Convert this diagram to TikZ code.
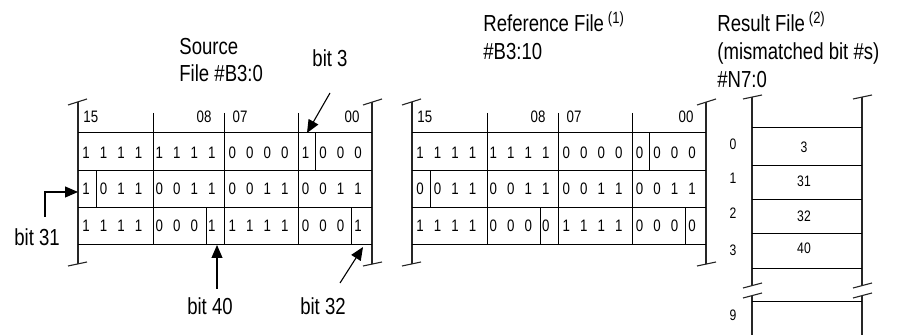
\documentclass[tikz,border=0pt]{standalone}
\usepackage{fontspec}
\setmainfont{Liberation Sans}
\newfontfamily\condfont{Liberation Sans}[FakeStretch=0.8]
\usetikzlibrary{arrows.meta}

% one row of 16 bits, grouped by four
\newcommand{\bitrow}[3]{%
  \foreach \d [count=\i from 0] in {#3}
    \node[bit] (#1-\i) at ({86+73.2*int(\i/4)+17.5*mod(\i,4)}, #2) {\d};}

% a 16-bit word file with three words shown
\newcommand{\wordtable}[4]{%
  \draw[wall] (78,102) -- (78,264);
  \draw[wall] (372,102) -- (372,264);
  \draw[brk] (68,105) -- (87,99);
  \draw[brk] (363,105) -- (382,99);
  \draw[brk] (68,266) -- (87,262);
  \draw[brk] (363,266) -- (382,262);
  \foreach \y in {133,171,208,245}
    \draw[rule] (78,\y) -- (372,\y);
  \foreach \x in {153,224,298}
    \draw[rule] (\x,113) -- (\x,245);
  \draw[rule] (315,133) -- (315,171);
  \draw[rule] (96,171) -- (96,208);
  \draw[rule] (206,208) -- (206,245);
  \draw[rule] (351,208) -- (351,245);
  \node[bit, anchor=west] (#1-h15) at (83,117) {15};
  \node[bit] (#1-h08) at (204,117) {08};
  \node[bit] (#1-h07) at (240,117) {07};
  \node[bit] (#1-h00) at (352,117) {00};
  \bitrow{#1-a}{153}{#2}
  \bitrow{#1-b}{189}{#3}
  \bitrow{#1-c}{226}{#4}}

\begin{document}
\begin{tikzpicture}[
    x=0.5pt, y=-0.5pt,
    >={Triangle[length=6.5pt, width=5.5pt]},
    wall/.style={black!85, line width=0.55pt},
    brk/.style={black!85, line width=0.55pt},
    rule/.style={black, line width=0.5pt},
    pointer/.style={black, line width=0.55pt, ->},
    bit/.style={font=\condfont\fontsize{8.3}{10}\selectfont, inner sep=0pt},
    val/.style={font=\condfont\fontsize{7.6}{9}\selectfont, inner sep=0pt},
    lbl/.style={font=\condfont\fontsize{11.6}{14}\selectfont, inner sep=0pt},
]
\useasboundingbox (0,0) rectangle (899,335);

% Source file
\node[lbl, anchor=base west] (src-t1) at (179,55) {Source};
\node[lbl, anchor=base west] (src-t2) at (179,82) {File \#B3:0};
\wordtable{src}{1,1,1,1,1,1,1,1,0,0,0,0,1,0,0,0}
               {1,0,1,1,0,0,1,1,0,0,1,1,0,0,1,1}
               {1,1,1,1,0,0,0,1,1,1,1,1,0,0,0,1}

% Reference file
\begin{scope}[shift={(334,0)}]
\wordtable{ref}{1,1,1,1,1,1,1,1,0,0,0,0,0,0,0,0}
               {0,0,1,1,0,0,1,1,0,0,1,1,0,0,1,1}
               {1,1,1,1,0,0,0,0,1,1,1,1,0,0,0,0}
\end{scope}
\node[lbl, anchor=base west] (ref-t1) at (483,32) {Reference File\,\textsuperscript{(1)}};
\node[lbl, anchor=base west] (ref-t2) at (483,60) {\#B3:10};

% Result file
\node[lbl, anchor=base west] (res-t1) at (717,32) {Result File\,\textsuperscript{(2)}};
\node[lbl, anchor=base west] (res-t2) at (717,60) {(mismatched bit \#s)};
\node[lbl, anchor=base west] (res-t3) at (717,88) {\#N7:0};
\draw[wall] (752,97) -- (752,286) (752,296) -- (752,335);
\draw[wall] (862,97) -- (862,286) (862,296) -- (862,335);
\draw[brk] (743,99) -- (762,95);
\draw[brk] (853,99) -- (872,95);
\foreach \y in {288,298} {
  \draw[brk] (743,\y) -- (762,\y-5);
  \draw[brk] (853,\y) -- (872,\y-5);
}
\foreach \y in {128,166,200,234,269,302}
  \draw[rule] (752,\y) -- (862,\y);
\foreach \n/\y/\v/\vy in {0/144/3/147, 1/178/31/181, 2/213/32/216, 3/250/40/248} {
  \node[val] (res-i\n) at (733,\y) {\n};
  \node[val] (res-v\n) at (804,\vy) {\v};
}
\node[val] (res-i9) at (733,315) {9};

% Mismatch pointers
\node[lbl, anchor=base] (bit3) at (330,67) {bit 3};
\node[lbl, anchor=base west] (bit31) at (14,246) {bit 31};
\node[lbl, anchor=base] (bit40) at (210,315) {bit 40};
\node[lbl, anchor=base] (bit32) at (323,315) {bit 32};
\coordinate (bit3 tail) at (330,93);
\coordinate (bit3 tip) at (307,133);
\coordinate (bit31 tail) at (45,217);
\coordinate (bit31 tip) at (78,192);
\coordinate (bit40 tail) at (217,289);
\coordinate (bit40 tip) at (217,245);
\coordinate (bit32 tail) at (340,283);
\coordinate (bit32 tip) at (363,247);
\draw[pointer] (bit3 tail) -- (bit3 tip);
\draw[pointer] (bit31 tail) |- (bit31 tip);
\draw[pointer] (bit40 tail) -- (bit40 tip);
\draw[pointer] (bit32 tail) -- (bit32 tip);

\end{tikzpicture}
\end{document}
